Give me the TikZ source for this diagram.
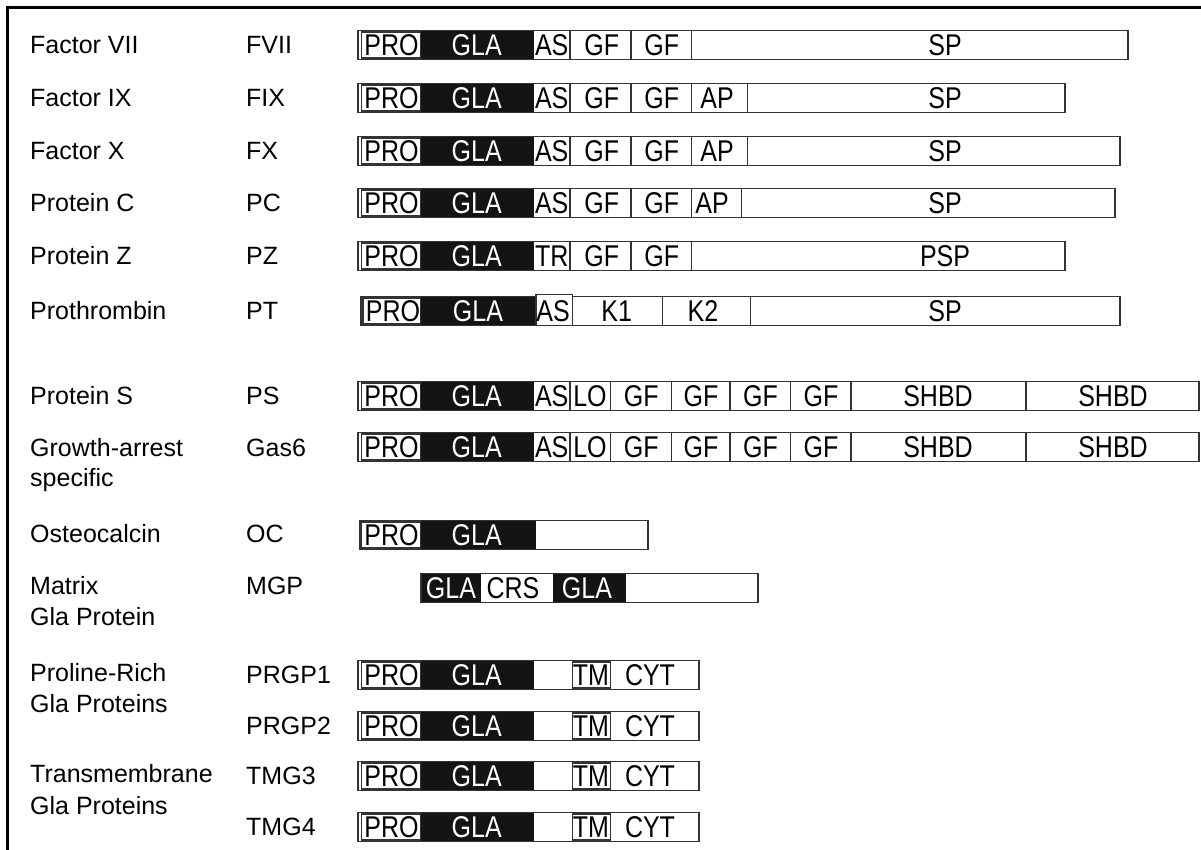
\documentclass[tikz,border=0pt]{standalone}
\usepackage{fontspec}
\setmainfont{Liberation Sans}
\definecolor{edge}{HTML}{333333}
\tikzset{
 outer/.style={draw=edge,line width=1.8pt},
 inbox/.style={draw=edge,line width=1.2pt,fill=white},
 divl/.style={draw=edge,line width=1.3pt},
 glaf/.style={fill=black!92},
 lab/.style={anchor=base west,inner sep=0pt,font=\fontsize{25}{30}\selectfont},
 bt/.style={anchor=base,inner sep=0pt,font=\fontsize{25}{30}\selectfont},
 btw/.style={bt,text=white},
 frameline/.style={line width=3pt,black}
}
\newcommand\Bs[1]{\scalebox{1}[1.2]{#1}}
% white background of a bar: left, right, yc
\newcommand\Bwhite[3]{\fill[white] (#1,{#3-14.5}) rectangle (#2,{#3+14.5});}
\newcommand\Bframe[3]{\draw[outer] (#1,{#3-14.5}) rectangle (#2,{#3+14.5});}
\newcommand\Bpro[3]{\draw[inbox] (#1,{#3-13}) rectangle (#2,{#3+13});}
\newcommand\Bgla[3]{\fill[glaf] (#1,{#3-14.5}) rectangle (#2,{#3+14.5});}
\newcommand\Bdiv[2]{\draw[divl] (#1,{#2-14.5}) -- (#1,{#2+14.5});}
\newcommand\Btext[4]{\node[bt] (#1) at (#2,{#3+10.5}) {\Bs{#4}};}
\newcommand\Btextw[4]{\node[btw] (#1) at (#2,{#3+10.5}) {\Bs{#4}};}
\newcommand\Lab[4]{\node[lab] (#1) at (#2,#3) {#4};}
\begin{document}
\begin{tikzpicture}[x=1pt,y=-1pt]
\useasboundingbox (0,0) rectangle (1201,850);
\fill[white] (0,0) rectangle (1201,850);
\draw[frameline] (7.5,850) -- (7.5,7.5) -- (1201,7.5);

% ---------- labels ----------
\Lab{n1}{30}{54}{Factor VII}      \Lab{s1}{246}{54}{FVII}
\Lab{n2}{30}{107}{Factor IX}      \Lab{s2}{246}{107}{FIX}
\Lab{n3}{30}{160}{Factor X}       \Lab{s3}{246}{160}{FX}
\Lab{n4}{30}{212}{Protein C}      \Lab{s4}{246}{212}{PC}
\Lab{n5}{30}{265}{Protein Z}      \Lab{s5}{246}{265}{PZ}
\Lab{n6}{30}{319}{Prothrombin}    \Lab{s6}{246}{319}{PT}
\Lab{n7}{30}{404}{Protein S}      \Lab{s7}{246}{404}{PS}
\Lab{n8}{30}{456}{Growth-arrest}  \Lab{s8}{246}{456}{Gas6}
\Lab{n8b}{30}{486}{specific}
\Lab{n9}{30}{542}{Osteocalcin}    \Lab{s9}{246}{542}{OC}
\Lab{n10}{30}{594}{Matrix}        \Lab{s10}{246}{594}{MGP}
\Lab{n10b}{30}{625}{Gla Protein}
\Lab{n11}{30}{681}{Proline-Rich}  \Lab{s11}{246}{683}{PRGP1}
\Lab{n11b}{30}{712}{Gla Proteins} \Lab{s12}{246}{734}{PRGP2}
\Lab{n13}{30}{782}{Transmembrane} \Lab{s13}{246}{784}{TMG3}
\Lab{n13b}{30}{814}{Gla Proteins} \Lab{s14}{246}{835}{TMG4}

% ---------- FVII ----------
\Bwhite{358.3}{1127.7}{45}
\Bpro{361.5}{421}{45}
\Bgla{421}{534.3}{45}
\Bdiv{570}{45}\Bdiv{631}{45}\Bdiv{691.7}{45}
\Bframe{358.3}{1127.7}{45}
\Btext{a1}{391.5}{45}{PRO}\Btextw{a2}{476.7}{45}{GLA}\Btext{a3}{551.7}{45}{AS}
\Btext{a4}{601.7}{45}{GF}\Btext{a5}{661.7}{45}{GF}\Btext{a6}{945}{45}{SP}

% ---------- FIX ----------
\Bwhite{358.3}{1065}{98}
\Bpro{361.5}{421}{98}
\Bgla{421}{534.3}{98}
\Bdiv{570}{98}\Bdiv{631}{98}\Bdiv{691.7}{98}\Bdiv{747.3}{98}
\Bframe{358.3}{1065}{98}
\Btext{b1}{391.5}{98}{PRO}\Btextw{b2}{476.7}{98}{GLA}\Btext{b3}{551.7}{98}{AS}
\Btext{b4}{601.7}{98}{GF}\Btext{b5}{661.7}{98}{GF}\Btext{b6}{717}{98}{AP}\Btext{b7}{945}{98}{SP}

% ---------- FX ----------
\Bwhite{358.3}{1120}{151}
\Bpro{361.5}{421}{151}
\Bgla{421}{534.3}{151}
\Bdiv{570}{151}\Bdiv{631}{151}\Bdiv{691.7}{151}\Bdiv{747.3}{151}
\Bframe{358.3}{1120}{151}
\Btext{c1}{391.5}{151}{PRO}\Btextw{c2}{476.7}{151}{GLA}\Btext{c3}{551.7}{151}{AS}
\Btext{c4}{601.7}{151}{GF}\Btext{c5}{661.7}{151}{GF}\Btext{c6}{717}{151}{AP}\Btext{c7}{945}{151}{SP}

% ---------- PC ----------
\Bwhite{358.3}{1115}{203}
\Bpro{361.5}{421}{203}
\Bgla{421}{534.3}{203}
\Bdiv{570}{203}\Bdiv{631}{203}\Bdiv{691.7}{203}\Bdiv{741.7}{203}
\Bframe{358.3}{1115}{203}
\Btext{d1}{391.5}{203}{PRO}\Btextw{d2}{476.7}{203}{GLA}\Btext{d3}{551.7}{203}{AS}
\Btext{d4}{601.7}{203}{GF}\Btext{d5}{661.7}{203}{GF}\Btext{d6}{712}{203}{AP}\Btext{d7}{945}{203}{SP}

% ---------- PZ ----------
\Bwhite{358.3}{1065}{256}
\Bpro{361.5}{421}{256}
\Bgla{421}{534.3}{256}
\Bdiv{570}{256}\Bdiv{631}{256}\Bdiv{691.7}{256}
\Bframe{358.3}{1065}{256}
\Btext{e1}{391.5}{256}{PRO}\Btextw{e2}{476.7}{256}{GLA}\Btext{e3}{551.7}{256}{TR}
\Btext{e4}{601.7}{256}{GF}\Btext{e5}{661.7}{256}{GF}\Btext{e6}{945}{256}{PSP}

% ---------- PT ----------
\Bwhite{360.7}{1120}{311}
\Bpro{363}{421}{311}
\Bgla{421}{536}{311}
\Bdiv{662.7}{311}\Bdiv{750.7}{311}
\Bframe{360.7}{1120}{311}
\draw[inbox] (536,294.5) rectangle (572.3,325.5);
\Btext{f1}{393}{311}{PRO}\Btextw{f2}{478}{311}{GLA}\Btext{f3}{553}{311}{AS}
\Btext{f4}{616.7}{311}{K1}\Btext{f5}{703}{311}{K2}\Btext{f6}{945}{311}{SP}

% ---------- PS ----------
\Bwhite{358.3}{1199}{396}
\Bpro{361.5}{421}{396}
\Bgla{421}{534.3}{396}
\Bdiv{570}{396}\Bdiv{610.7}{396}\Bdiv{671.7}{396}\Bdiv{730}{396}\Bdiv{790.7}{396}\Bdiv{851}{396}\Bdiv{1026}{396}
\Bframe{358.3}{1199}{396}
\Btext{g1}{391.5}{396}{PRO}\Btextw{g2}{476.7}{396}{GLA}\Btext{g3}{551.7}{396}{AS}\Btext{g4}{590}{396}{LO}
\Btext{g5}{641.2}{396}{GF}\Btext{g6}{700.9}{396}{GF}\Btext{g7}{760.4}{396}{GF}\Btext{g8}{820.9}{396}{GF}
\Btext{g9}{938}{396}{SHBD}\Btext{g10}{1113}{396}{SHBD}

% ---------- Gas6 ----------
\Bwhite{358.3}{1199}{447}
\Bpro{361.5}{421}{447}
\Bgla{421}{534.3}{447}
\Bdiv{570}{447}\Bdiv{610.7}{447}\Bdiv{671.7}{447}\Bdiv{730}{447}\Bdiv{790.7}{447}\Bdiv{851}{447}\Bdiv{1026}{447}
\Bframe{358.3}{1199}{447}
\Btext{h1}{391.5}{447}{PRO}\Btextw{h2}{476.7}{447}{GLA}\Btext{h3}{551.7}{447}{AS}\Btext{h4}{590}{447}{LO}
\Btext{h5}{641.2}{447}{GF}\Btext{h6}{700.9}{447}{GF}\Btext{h7}{760.4}{447}{GF}\Btext{h8}{820.9}{447}{GF}
\Btext{h9}{938}{447}{SHBD}\Btext{h10}{1113}{447}{SHBD}

% ---------- OC ----------
\Bwhite{360}{648.3}{535}
\Bpro{361.7}{421}{535}
\Bgla{421}{536}{535}
\Bframe{360}{648.3}{535}
\Btext{i1}{391.5}{535}{PRO}\Btextw{i2}{476.7}{535}{GLA}

% ---------- MGP ----------
\Bwhite{421}{757.7}{588}
\Bgla{421}{480.7}{588}
\Bgla{552.7}{626}{588}
\Bframe{421}{757.7}{588}
\Btextw{j1}{451}{588}{GLA}\Btext{j2}{513}{588}{CRS}\Btextw{j3}{587}{588}{GLA}

% ---------- PRGP1, PRGP2, TMG3, TMG4 ----------
\foreach \yc/\nm in {675/k,726/l,776/m,827/n}{
 \Bwhite{358.3}{699.3}{\yc}
 \Bpro{361.5}{421}{\yc}
 \Bgla{421}{534.3}{\yc}
 \Bpro{572.3}{610.7}{\yc}
 \Bframe{358.3}{699.3}{\yc}
 \Btext{\nm1}{391.5}{\yc}{PRO}\Btextw{\nm2}{476.7}{\yc}{GLA}
 \Btext{\nm3}{591}{\yc}{TM}\Btext{\nm4}{650}{\yc}{CYT}
}
\end{tikzpicture}
\end{document}
